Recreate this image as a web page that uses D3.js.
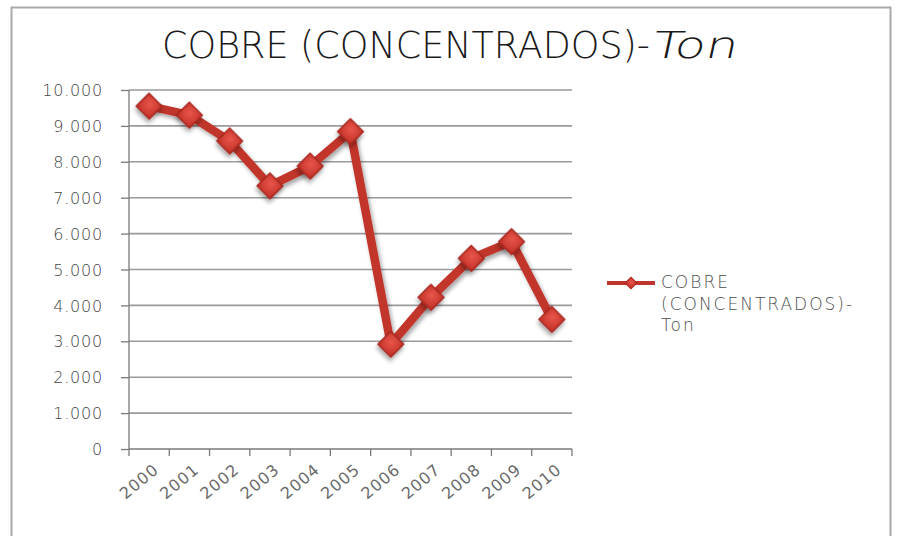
<!DOCTYPE html>
<html><head><meta charset="utf-8">
<script src="https://cdn.jsdelivr.net/npm/d3@7"></script>
<style>
html,body{margin:0;padding:0;background:#fff;}
svg{display:block;}
</style></head>
<body>
<svg id="chart" width="897" height="536"></svg>
<script>
const years = ["2000","2001","2002","2003","2004","2005","2006","2007","2008","2009","2010"];
const values = [9550, 9300, 8580, 7330, 7880, 8840, 2920, 4225, 5310, 5775, 3610];
const yTicks = [0,1000,2000,3000,4000,5000,6000,7000,8000,9000,10000];
const titleText = "COBRE (CONCENTRADOS)-";
const titleItalic = "Ton";
const legendLines = ["COBRE", "(CONCENTRADOS)-", "Ton"];

const svg = d3.select("#chart");
const font = "'DejaVu Sans', sans-serif";
const red = "#c1362c";

// defs
const defs = svg.append("defs");
const f = defs.append("filter").attr("id","shadow").attr("x","-50%").attr("y","-50%").attr("width","200%").attr("height","200%");
f.append("feDropShadow").attr("dx",2).attr("dy",3).attr("stdDeviation",2).attr("flood-color","#000").attr("flood-opacity",0.35);
const g1 = defs.append("radialGradient").attr("id","mk").attr("cx","45%").attr("cy","40%").attr("r","70%");
g1.append("stop").attr("offset","0%").attr("stop-color","#e8564a");
g1.append("stop").attr("offset","100%").attr("stop-color","#c4322a");

// frame
svg.append("rect").attr("x",11.5).attr("y",7.5).attr("width",879).attr("height",540)
  .attr("fill","#fff").attr("stroke","#a9a9a9").attr("stroke-width",2);

// title
svg.append("text").attr("x",162).attr("y",58)
  .attr("font-family",font).attr("font-size",37).attr("font-weight",200).attr("fill","#1a1a1a")
  .attr("textLength",488).attr("lengthAdjust","spacingAndGlyphs").text(titleText);
svg.append("text").attr("transform","translate(650,58) skewX(-12)")
  .attr("font-family",font).attr("font-size",37).attr("font-weight",200).attr("fill","#1a1a1a")
  .attr("textLength",86).attr("lengthAdjust","spacingAndGlyphs").text(titleItalic);

const x = d3.scaleBand().domain(years).range([129,572]);
const y = d3.scaleLinear().domain([0,10000]).range([449,90]);

// gridlines
svg.append("g").selectAll("line").data(yTicks.filter(d=>d>0)).join("line")
  .attr("x1",129).attr("x2",572).attr("y1",d=>y(d)).attr("y2",d=>y(d))
  .attr("stroke","#9a9a9a").attr("stroke-width",1.6);

const fmt = d => d3.format(",")(d).replace(/,/g,".");

// y axis
const ya = svg.append("g").attr("transform","translate(129,0)")
  .call(d3.axisLeft(y).tickValues(yTicks).tickFormat(fmt).tickSize(8).tickPadding(18));
ya.select(".domain").attr("stroke","#7a7a7a").attr("stroke-width",1.3).attr("d","M0,449V90");
ya.selectAll(".tick line").attr("stroke","#7a7a7a").attr("stroke-width",1.3);
ya.selectAll(".tick text").attr("font-family",font).attr("font-size",16).attr("fill","#454545")
  .attr("font-weight",300).attr("letter-spacing","0.8px").attr("dy","0.35em");

// x axis
const xa = svg.append("g").attr("transform","translate(0,449)")
  .call(d3.axisBottom(x).tickSize(0).tickPadding(0));
xa.select(".domain").attr("stroke","#7a7a7a").attr("stroke-width",1.3).attr("d","M129,0H572");
xa.selectAll(".tick text").remove();
const edges = years.map(d=>x(d)).concat([572]);
xa.append("g").selectAll("line").data(edges).join("line")
  .attr("x1",d=>d).attr("x2",d=>d).attr("y1",0).attr("y2",7)
  .attr("stroke","#7a7a7a").attr("stroke-width",1.3);
xa.append("g").selectAll("text").data(years).join("text")
  .attr("transform",d=>`translate(${x(d)+x.bandwidth()/2+7},18) rotate(-40)`)
  .attr("text-anchor","end").attr("dy","0.35em")
  .attr("font-family",font).attr("font-size",16).attr("fill","#6a6a6a")
  .attr("letter-spacing","1px")
  .text(d=>d);

// line
const pts = years.map((d,i)=>[x(d)+x.bandwidth()/2, y(values[i])]);
svg.append("path").attr("d",d3.line()(pts)).attr("fill","none")
  .attr("stroke",red).attr("stroke-width",8.5).attr("stroke-linejoin","round")
  .attr("filter","url(#shadow)");

// markers
svg.append("g").selectAll("path").data(pts).join("path")
  .attr("transform",d=>`translate(${d[0]},${d[1]}) rotate(45)`)
  .attr("d",d3.symbol().type(d3.symbolSquare).size(330))
  .attr("fill","url(#mk)").attr("stroke","#a8281f").attr("stroke-width",1.5)
  .attr("filter","url(#shadow)");

// legend
const lg = svg.append("g");
lg.append("line").attr("x1",607).attr("x2",655).attr("y1",283).attr("y2",283)
  .attr("stroke",red).attr("stroke-width",4);
lg.append("path").attr("transform","translate(631,283) rotate(45)")
  .attr("d",d3.symbol().type(d3.symbolSquare).size(70))
  .attr("fill","url(#mk)").attr("stroke","#a8281f").attr("stroke-width",1);
lg.selectAll("text").data(legendLines).join("text")
  .attr("x",661).attr("y",(d,i)=>288+i*21.5)
  .attr("font-family",font).attr("font-size",17).attr("fill","#4d4d4d").attr("font-weight",300)
  .attr("letter-spacing","2px")
  .text(d=>d);
</script>
</body></html>
